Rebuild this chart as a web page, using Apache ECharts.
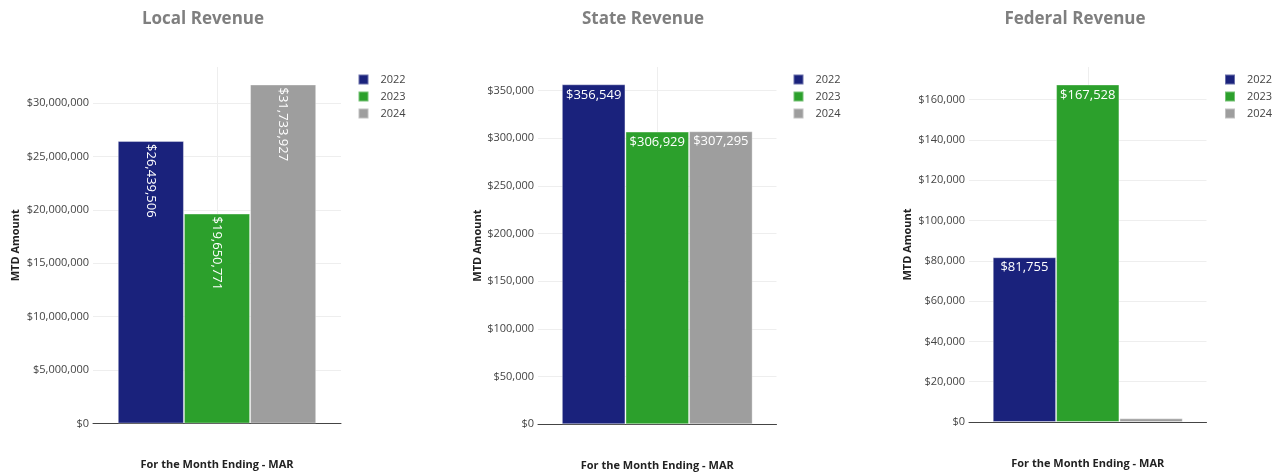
<!DOCTYPE html>
<html>
<head>
<meta charset="utf-8">
<script src="https://cdn.jsdelivr.net/npm/echarts@6/dist/echarts.min.js"></script>
<style>
  html, body { margin: 0; padding: 0; background: #fff; }
  #chart { width: 1281px; height: 472px; }
</style>
</head>
<body>
<div id="chart"></div>
<script>
// ---- data ----
const categories = ['MAR'];
const years = ['2022', '2023', '2024'];
const chartTitles = ['Local Revenue', 'State Revenue', 'Federal Revenue'];
const localValues = [26439506, 19650771, 31733927];
const stateValues = [356549, 306929, 307295];
const federalValues = [81755, 167528, 1800];
const axisMax = [33370000, 374700, 176200];
const axisStep = [5000000, 50000, 20000];
const xTitle = 'For the Month Ending - MAR';
const yTitle = 'MTD Amount';

const colors = ['#1a227c', '#2ca02c', '#9e9e9e'];
const FONT = "'Open Sans', 'Noto Sans', sans-serif";

const panels = [
  { values: localValues, left: 93, width: 248, top: 67, height: 356.5, legendLeft: 357.5, titleX: 198, yGap: 72, rotateLabels: true },
  { values: stateValues, left: 538, width: 238.5, top: 67, height: 357.3, legendLeft: 792.5, titleX: 638, yGap: 55, rotateLabels: false },
  { values: federalValues, left: 969, width: 237.5, top: 67, height: 355, legendLeft: 1224, titleX: 1070, yGap: 56, rotateLabels: false }
];

const fmt = v => '$' + Math.round(v).toLocaleString('en-US');

const option = {
  animation: false,
  backgroundColor: '#fff',
  textStyle: { fontFamily: FONT },
  title: panels.map((p, i) => ({
    text: chartTitles[i],
    left: p.titleX,
    top: 6,
    textAlign: 'center',
    textStyle: { fontFamily: FONT, fontSize: 17, fontWeight: 'bold', color: '#7f7f7f' }
  })),
  legend: panels.map(p => ({
    data: years,
    orient: 'vertical',
    left: p.legendLeft,
    top: 73.5,
    padding: 0,
    itemWidth: 10,
    itemHeight: 10,
    itemGap: 5,
    icon: 'rect',
    selectedMode: false,
    textStyle: { fontFamily: FONT, fontSize: 11, color: '#444', padding: [0, 0, 0, 7] }
  })),
  grid: panels.map(p => ({
    left: p.left, width: p.width, top: p.top, height: p.height,
    containLabel: false, outerBoundsMode: 'none'
  })),
  xAxis: [].concat(
    panels.map((p, i) => ({
      type: 'category',
      gridIndex: i,
      data: categories,
      name: xTitle,
      nameLocation: 'middle',
      nameGap: 36,
      nameTextStyle: { fontFamily: FONT, fontSize: 11, fontWeight: 'bold', color: '#222' },
      axisLine: { show: true, lineStyle: { color: '#444', width: 1 } },
      axisTick: { show: false },
      axisLabel: { show: false },
      splitLine: { show: false }
    })),
    panels.map((p, i) => ({
      type: 'value',
      gridIndex: i,
      min: -1,
      max: 1,
      interval: 1,
      axisLine: { show: false },
      axisTick: { show: false },
      axisLabel: { show: false },
      splitLine: { show: true, showMinLine: false, showMaxLine: false, lineStyle: { color: '#eeeeee', width: 1 } }
    }))
  ),
  yAxis: panels.map((p, i) => ({
    type: 'value',
    gridIndex: i,
    min: 0,
    max: axisMax[i],
    interval: axisStep[i],
    name: yTitle,
    nameLocation: 'middle',
    nameRotate: 90,
    nameGap: p.yGap,
    nameTextStyle: { fontFamily: FONT, fontSize: 11, fontWeight: 'bold', color: '#222' },
    axisLine: { show: false },
    axisTick: { show: false },
    axisLabel: {
      showMaxLabel: false,
      margin: 4,
      fontFamily: FONT,
      fontSize: 11,
      color: '#444',
      formatter: v => fmt(v)
    },
    splitLine: { show: true, showMaxLine: false, lineStyle: { color: '#eeeeee', width: 1 } }
  })),
  series: []
};

panels.forEach((p, i) => {
  years.forEach((y, k) => {
    option.series.push({
      type: 'bar',
      name: y,
      xAxisIndex: i,
      yAxisIndex: i,
      data: [p.values[k]],
      barCategoryGap: '20%',
      barGap: '0%',
      itemStyle: { color: colors[k], borderColor: 'rgba(255,255,255,0.35)', borderWidth: 1 },
      label: p.rotateLabels ? {
        show: true,
        position: 'insideTop',
        rotate: -90,
        align: 'left',
        verticalAlign: 'middle',
        distance: 3,
        color: '#fff',
        fontFamily: FONT,
        fontSize: 13,
        formatter: d => fmt(d.value)
      } : {
        show: true,
        position: 'insideTop',
        distance: 4,
        color: '#fff',
        fontFamily: FONT,
        fontSize: 13,
        formatter: d => (d.value / axisMax[i] < 0.05 ? '' : fmt(d.value))
      }
    });
  });
});

const chart = echarts.init(document.getElementById('chart'), null, { renderer: 'canvas' });
chart.setOption(option);
</script>
</body>
</html>
